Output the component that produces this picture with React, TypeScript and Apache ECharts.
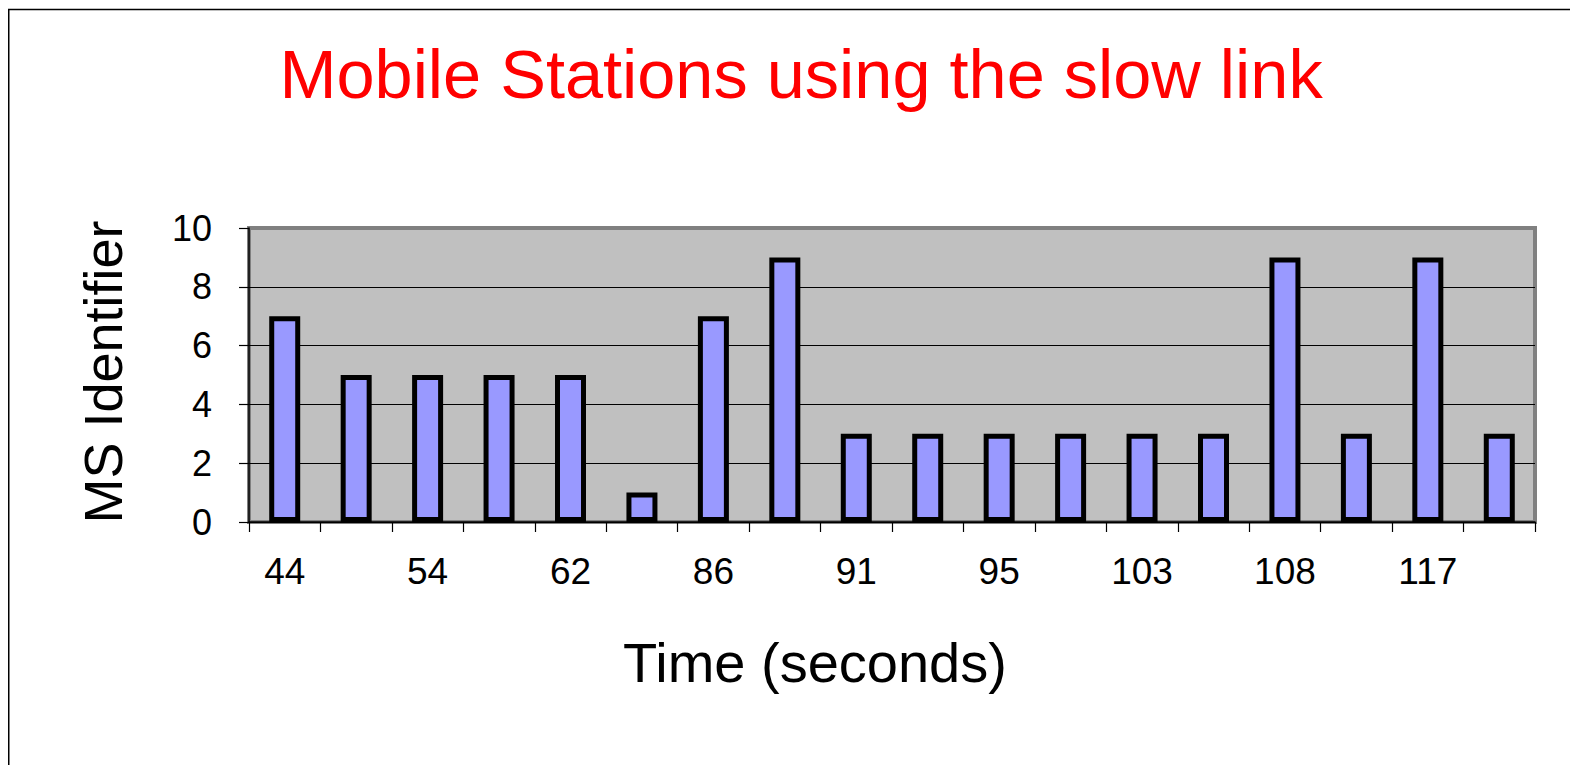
import React, { useEffect, useRef } from "react";
import * as echarts from "echarts";

const titleText = "Mobile Stations using the slow link";
const xAxisTitle = "Time (seconds)";
const yAxisTitle = "MS Identifier";
const categories = ["44", "49", "54", "58", "62", "75", "86", "88", "91", "93", "95", "99", "103", "105", "108", "112", "117", "120"];
const msIds = [7, 5, 5, 5, 5, 1, 7, 9, 3, 3, 3, 3, 3, 3, 9, 3, 9, 3];
const yTicks = { min: 0, max: 10, interval: 2 };

export default function App() {
  const ref = useRef<HTMLDivElement>(null);
  useEffect(() => {
    document.documentElement.style.overflow = "hidden";
    document.body.style.overflow = "hidden";
    const chart = echarts.init(ref.current!, null, { renderer: "svg" });
    const font = "'Liberation Sans', Arial, sans-serif";
    chart.setOption({
      animation: false,
      backgroundColor: "#ffffff",
      grid: {
        left: 241,
        top: 220,
        width: 1286,
        height: 294,
        show: true,
        backgroundColor: "#c0c0c0",
        borderColor: "#808080",
        borderWidth: 4,
      },
      xAxis: {
        type: "category",
        data: categories,
        boundaryGap: true,
        axisLine: { lineStyle: { color: "#000", width: 1.5 } },
        axisTick: { show: true, interval: 0, length: 10, lineStyle: { color: "#000", width: 1.2 } },
        axisLabel: { interval: 1, margin: 31, color: "#000", fontSize: 37, fontFamily: font },
        splitLine: { show: false },
      },
      yAxis: {
        type: "value",
        min: yTicks.min,
        max: yTicks.max,
        interval: yTicks.interval,
        axisLine: { show: true, lineStyle: { color: "#000", width: 1.5 } },
        axisTick: { show: true, length: 10, lineStyle: { color: "#000", width: 1.2 } },
        axisLabel: { margin: 37, color: "#000", fontSize: 36, fontFamily: font },
        splitLine: {
          show: true,
          lineStyle: { color: ["#000", "#000", "#000", "#000", "#000", "#808080"], width: 1 },
        },
      },
      series: [
        {
          type: "bar",
          data: msIds,
          barWidth: 31,
          itemStyle: { color: "#9999ff", borderColor: "#000", borderWidth: 5 },
        },
      ],
      graphic: [
        { type: "line", shape: { x1: 0.75, y1: 1.5, x2: 0.75, y2: 757 }, style: { stroke: "#000", lineWidth: 1.5 } },
        { type: "line", shape: { x1: 0, y1: 1.5, x2: 1570, y2: 1.5 }, style: { stroke: "#000", lineWidth: 1.5 } },
        {
          type: "text",
          x: 793,
          y: 66,
          style: { text: titleText, fill: "#ff0000", fontSize: 68.5, fontFamily: font, align: "center", verticalAlign: "middle" },
        },
        {
          type: "text",
          x: 807,
          y: 654,
          style: { text: xAxisTitle, fill: "#000", fontSize: 56, fontFamily: font, align: "center", verticalAlign: "middle" },
        },
        {
          type: "text",
          x: 95,
          y: 364,
          rotation: Math.PI / 2,
          style: { text: yAxisTitle, fill: "#000", fontSize: 54, fontFamily: font, align: "center", verticalAlign: "middle" },
        },
      ],
    });
    return () => chart.dispose();
  }, []);
  return <div ref={ref} style={{ width: 1570, height: 757 }} />;
}
